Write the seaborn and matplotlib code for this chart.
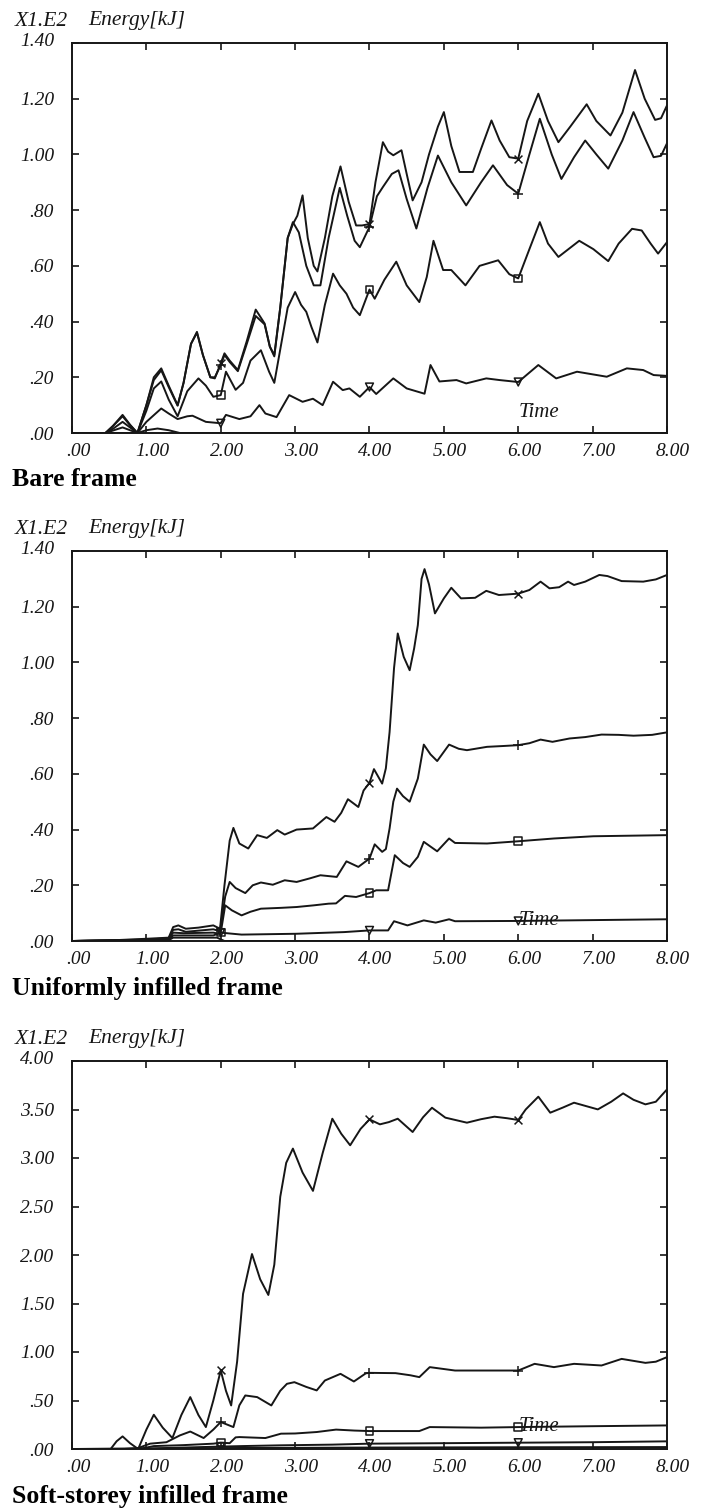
import numpy as np
import pandas as pd
import matplotlib
matplotlib.use("Agg")
import matplotlib.pyplot as plt
from matplotlib.transforms import ScaledTranslation
import seaborn as sns

# ---------------- data (values x 1E2 kJ) ----------------
# Panel 1 : Bare frame
p1_a_t = [0, 0.45, 0.55, 0.68, 0.78, 0.88, 1.0, 1.1, 1.2, 1.3, 1.42, 1.5, 1.6, 1.68, 1.76, 1.86, 1.92, 2.0, 2.05, 2.12, 2.23, 2.35, 2.47, 2.59, 2.66, 2.72, 2.8, 2.9, 2.97, 3.03, 3.1, 3.17, 3.25, 3.3, 3.4, 3.5, 3.61, 3.72, 3.82, 3.9, 4.0, 4.08, 4.18, 4.25, 4.32, 4.43, 4.5, 4.58, 4.7, 4.8, 4.92, 5.0, 5.1, 5.21, 5.39, 5.5, 5.64, 5.75, 5.88, 6.0, 6.12, 6.27, 6.4, 6.54, 6.7, 6.92, 7.05, 7.24, 7.4, 7.57, 7.7, 7.84, 7.92, 8.0]
p1_a_v = [0, 0, 0.025, 0.065, 0.03, 0.0, 0.1, 0.2, 0.232, 0.17, 0.10, 0.18, 0.32, 0.363, 0.28, 0.2, 0.196, 0.25, 0.286, 0.26, 0.226, 0.33, 0.443, 0.393, 0.31, 0.28, 0.45, 0.7, 0.75, 0.78, 0.853, 0.7, 0.6, 0.58, 0.7, 0.85, 0.957, 0.83, 0.745, 0.745, 0.75, 0.9, 1.044, 1.01, 0.997, 1.015, 0.93, 0.835, 0.9, 1.0, 1.1, 1.152, 1.03, 0.937, 0.937, 1.02, 1.122, 1.05, 0.99, 0.985, 1.12, 1.218, 1.12, 1.044, 1.1, 1.18, 1.12, 1.068, 1.15, 1.303, 1.2, 1.124, 1.13, 1.176]
p1_b_t = [0, 0.45, 0.55, 0.68, 0.78, 0.88, 1.0, 1.1, 1.2, 1.3, 1.42, 1.5, 1.6, 1.68, 1.76, 1.86, 1.92, 2.0, 2.05, 2.12, 2.23, 2.35, 2.47, 2.59, 2.66, 2.72, 2.8, 2.9, 2.97, 3.05, 3.15, 3.25, 3.34, 3.45, 3.6, 3.7, 3.8, 3.87, 4.0, 4.1, 4.18, 4.3, 4.39, 4.5, 4.63, 4.78, 4.92, 5.1, 5.3, 5.5, 5.66, 5.85, 6.0, 6.15, 6.29, 6.45, 6.58, 6.75, 6.9, 7.05, 7.21, 7.4, 7.55, 7.7, 7.82, 7.92, 8.0]
p1_b_v = [0, 0, 0.025, 0.06, 0.028, 0.0, 0.1, 0.19, 0.225, 0.165, 0.098, 0.18, 0.32, 0.36, 0.28, 0.2, 0.2, 0.244, 0.28, 0.255, 0.222, 0.32, 0.42, 0.39, 0.31, 0.275, 0.45, 0.7, 0.757, 0.72, 0.6, 0.53, 0.53, 0.7, 0.88, 0.78, 0.69, 0.667, 0.74, 0.85, 0.883, 0.93, 0.943, 0.84, 0.734, 0.88, 0.996, 0.9, 0.817, 0.9, 0.961, 0.89, 0.859, 1.0, 1.128, 1.0, 0.912, 0.99, 1.05, 1.0, 0.949, 1.05, 1.152, 1.06, 0.99, 0.995, 1.04]
p1_c_t = [0, 0.45, 0.55, 0.68, 0.78, 0.88, 1.0, 1.1, 1.2, 1.3, 1.42, 1.55, 1.7, 1.8, 1.9, 2.0, 2.07, 2.2, 2.3, 2.4, 2.54, 2.65, 2.72, 2.8, 2.9, 3.0, 3.08, 3.15, 3.22, 3.3, 3.4, 3.51, 3.6, 3.69, 3.78, 3.87, 4.0, 4.07, 4.2, 4.36, 4.5, 4.67, 4.77, 4.86, 4.99, 5.1, 5.29, 5.48, 5.73, 5.88, 6.0, 6.15, 6.29, 6.4, 6.54, 6.82, 7.01, 7.21, 7.35, 7.53, 7.66, 7.78, 7.88, 8.0]
p1_c_v = [0, 0, 0.015, 0.04, 0.02, 0.0, 0.08, 0.16, 0.185, 0.12, 0.06, 0.15, 0.196, 0.17, 0.13, 0.136, 0.22, 0.155, 0.18, 0.26, 0.297, 0.22, 0.18, 0.3, 0.45, 0.506, 0.46, 0.435, 0.38, 0.325, 0.46, 0.572, 0.53, 0.5, 0.45, 0.423, 0.515, 0.482, 0.55, 0.615, 0.53, 0.47, 0.56, 0.69, 0.585, 0.585, 0.53, 0.6, 0.62, 0.57, 0.555, 0.66, 0.757, 0.68, 0.632, 0.69, 0.66, 0.617, 0.68, 0.733, 0.727, 0.68, 0.644, 0.685]
p1_d_t = [0, 0.45, 0.68, 0.88, 1.0, 1.2, 1.3, 1.42, 1.55, 1.62, 1.8, 2.0, 2.07, 2.25, 2.4, 2.52, 2.6, 2.75, 2.92, 3.1, 3.24, 3.37, 3.51, 3.64, 3.73, 3.87, 4.0, 4.09, 4.32, 4.5, 4.74, 4.82, 4.94, 5.17, 5.3, 5.57, 5.75, 6.0, 6.27, 6.51, 6.79, 7.19, 7.46, 7.68, 7.82, 8.0]
p1_d_v = [0, 0, 0.02, 0.0, 0.04, 0.088, 0.07, 0.05, 0.06, 0.062, 0.04, 0.035, 0.065, 0.05, 0.06, 0.1, 0.07, 0.057, 0.136, 0.112, 0.123, 0.1, 0.184, 0.154, 0.16, 0.13, 0.165, 0.14, 0.196, 0.16, 0.141, 0.244, 0.185, 0.19, 0.178, 0.196, 0.19, 0.183, 0.244, 0.196, 0.22, 0.202, 0.232, 0.226, 0.208, 0.205]
p1_e_t = [0, 0.88, 1.0, 1.15, 1.3, 1.45, 8.0]
p1_e_v = [0, 0, 0.01, 0.016, 0.01, 0.0, 0.0]

# Panel 2 : Uniformly infilled frame
p2_a_t = [0, 0.5, 1.0, 1.3, 1.36, 1.43, 1.53, 1.7, 1.9, 1.99, 2.05, 2.12, 2.17, 2.25, 2.37, 2.49, 2.62, 2.76, 2.86, 3.02, 3.24, 3.42, 3.53, 3.62, 3.71, 3.85, 3.92, 4.0, 4.06, 4.17, 4.22, 4.27, 4.33, 4.38, 4.46, 4.54, 4.6, 4.65, 4.7, 4.74, 4.8, 4.88, 5.0, 5.1, 5.23, 5.42, 5.57, 5.74, 5.9, 6.0, 6.15, 6.3, 6.42, 6.55, 6.67, 6.75, 6.9, 7.09, 7.2, 7.39, 7.68, 7.85, 8.0]
p2_a_v = [0, 0.002, 0.008, 0.012, 0.05, 0.056, 0.044, 0.048, 0.056, 0.044, 0.2, 0.36, 0.406, 0.35, 0.332, 0.38, 0.37, 0.398, 0.382, 0.4, 0.404, 0.445, 0.428, 0.46, 0.509, 0.481, 0.54, 0.568, 0.617, 0.565, 0.62, 0.75, 0.98, 1.104, 1.02, 0.972, 1.05, 1.134, 1.3, 1.335, 1.28, 1.176, 1.23, 1.268, 1.23, 1.232, 1.257, 1.242, 1.245, 1.247, 1.26, 1.29, 1.266, 1.27, 1.29, 1.278, 1.29, 1.314, 1.31, 1.292, 1.29, 1.298, 1.314]
p2_b_t = [0, 1.0, 1.3, 1.36, 1.43, 1.53, 1.9, 1.99, 2.06, 2.12, 2.2, 2.33, 2.43, 2.54, 2.7, 2.86, 3.02, 3.2, 3.34, 3.56, 3.69, 3.85, 4.0, 4.07, 4.17, 4.22, 4.27, 4.32, 4.37, 4.45, 4.54, 4.65, 4.73, 4.82, 4.91, 5.07, 5.2, 5.31, 5.58, 5.8, 6.0, 6.15, 6.3, 6.46, 6.69, 6.9, 7.12, 7.35, 7.55, 7.8, 8.0]
p2_b_v = [0, 0.005, 0.01, 0.04, 0.042, 0.033, 0.042, 0.035, 0.16, 0.212, 0.19, 0.172, 0.2, 0.21, 0.202, 0.218, 0.212, 0.225, 0.236, 0.23, 0.286, 0.266, 0.296, 0.347, 0.32, 0.33, 0.404, 0.5, 0.547, 0.52, 0.5, 0.583, 0.705, 0.67, 0.646, 0.705, 0.69, 0.685, 0.697, 0.7, 0.703, 0.71, 0.723, 0.715, 0.727, 0.732, 0.741, 0.74, 0.737, 0.74, 0.749]
p2_c_t = [0, 1.0, 1.3, 1.36, 1.5, 1.9, 1.99, 2.0, 2.06, 2.15, 2.28, 2.4, 2.54, 2.81, 3.02, 3.25, 3.45, 3.55, 3.67, 3.82, 4.0, 4.09, 4.25, 4.34, 4.45, 4.54, 4.65, 4.73, 4.91, 5.07, 5.15, 5.58, 6.0, 6.48, 7.01, 7.5, 8.0]
p2_c_v = [0, 0.004, 0.008, 0.03, 0.028, 0.03, 0.025, 0.03, 0.128, 0.11, 0.092, 0.105, 0.116, 0.119, 0.122, 0.128, 0.134, 0.135, 0.162, 0.158, 0.172, 0.182, 0.182, 0.308, 0.28, 0.266, 0.302, 0.356, 0.322, 0.368, 0.352, 0.35, 0.358, 0.368, 0.376, 0.378, 0.38]
p2_d_t = [0, 1.3, 1.36, 1.9, 2.0, 2.28, 3.02, 3.66, 4.0, 4.25, 4.33, 4.51, 4.73, 4.89, 5.07, 5.15, 6.0, 7.0, 8.0]
p2_d_v = [0, 0.005, 0.02, 0.02, 0.03, 0.023, 0.026, 0.032, 0.038, 0.038, 0.071, 0.056, 0.074, 0.066, 0.078, 0.071, 0.072, 0.075, 0.078]
p2_e_t = [0, 1.3, 1.36, 1.95, 2.05, 8.0]
p2_e_v = [0, 0.003, 0.012, 0.012, 0.0, 0.0]

# Panel 3 : Soft-storey infilled frame
p3_a_t = [0, 0.52, 0.6, 0.68, 0.78, 0.89, 1.0, 1.1, 1.22, 1.35, 1.47, 1.59, 1.7, 1.8, 1.9, 2.0, 2.07, 2.14, 2.22, 2.3, 2.42, 2.53, 2.64, 2.72, 2.8, 2.88, 2.97, 3.1, 3.24, 3.37, 3.5, 3.62, 3.74, 3.88, 4.0, 4.14, 4.26, 4.38, 4.58, 4.72, 4.84, 5.02, 5.31, 5.5, 5.68, 5.85, 6.0, 6.1, 6.27, 6.43, 6.6, 6.75, 7.07, 7.25, 7.41, 7.55, 7.71, 7.85, 8.0]
p3_a_v = [0, 0, 0.08, 0.13, 0.06, 0.0, 0.2, 0.353, 0.22, 0.113, 0.35, 0.535, 0.35, 0.226, 0.5, 0.81, 0.6, 0.449, 0.9, 1.6, 2.01, 1.75, 1.588, 1.9, 2.6, 2.95, 3.097, 2.85, 2.661, 3.05, 3.405, 3.25, 3.131, 3.3, 3.398, 3.347, 3.37, 3.405, 3.268, 3.42, 3.518, 3.416, 3.364, 3.4, 3.426, 3.41, 3.392, 3.5, 3.632, 3.467, 3.52, 3.57, 3.501, 3.58, 3.666, 3.6, 3.553, 3.58, 3.707]
p3_b_t = [0, 0.7, 0.89, 1.05, 1.27, 1.45, 1.59, 1.77, 1.9, 2.0, 2.17, 2.25, 2.33, 2.49, 2.68, 2.8, 2.89, 2.99, 3.15, 3.29, 3.4, 3.61, 3.79, 3.95, 4.0, 4.35, 4.55, 4.67, 4.81, 5.15, 5.47, 6.0, 6.22, 6.48, 6.75, 7.12, 7.39, 7.71, 7.85, 8.0]
p3_b_v = [0, 0, 0.01, 0.055, 0.07, 0.14, 0.18, 0.113, 0.2, 0.278, 0.226, 0.45, 0.552, 0.535, 0.449, 0.6, 0.672, 0.689, 0.64, 0.604, 0.706, 0.775, 0.696, 0.78, 0.785, 0.782, 0.76, 0.741, 0.844, 0.809, 0.809, 0.809, 0.878, 0.844, 0.878, 0.861, 0.929, 0.888, 0.9, 0.947]
p3_c_t = [0, 0.9, 1.1, 1.5, 1.9, 2.0, 2.12, 2.2, 2.25, 2.6, 2.81, 3.0, 3.29, 3.55, 3.8, 4.0, 4.67, 4.81, 5.5, 6.0, 7.0, 8.0]
p3_c_v = [0, 0, 0.03, 0.04, 0.055, 0.065, 0.06, 0.12, 0.123, 0.113, 0.158, 0.16, 0.175, 0.2, 0.19, 0.185, 0.185, 0.226, 0.22, 0.226, 0.235, 0.243]
p3_d_t = [0, 1.0, 1.5, 2.0, 2.28, 2.81, 3.5, 4.0, 5.0, 6.0, 7.0, 8.0]
p3_d_v = [0, 0.005, 0.015, 0.025, 0.03, 0.038, 0.045, 0.055, 0.06, 0.065, 0.07, 0.079]
p3_e_t = [0, 1.0, 2.0, 3.0, 4.0, 6.0, 8.0]
p3_e_v = [0, 0.003, 0.01, 0.012, 0.015, 0.018, 0.02]

titles = ["Bare frame", "Uniformly infilled frame", "Soft-storey infilled frame"]
x_ticks = [0, 1, 2, 3, 4, 5, 6, 7, 8]
x_ticklabels = [".00", "1.00", "2.00", "3.00", "4.00", "5.00", "6.00", "7.00", "8.00"]
y_ticks_12 = [0, 0.2, 0.4, 0.6, 0.8, 1.0, 1.2, 1.4]
y_ticklabels_12 = [".00", ".20", ".40", ".60", ".80", "1.00", "1.20", "1.40"]
y_ticks_3 = [0, 0.5, 1.0, 1.5, 2.0, 2.5, 3.0, 3.5, 4.0]
y_ticklabels_3 = [".00", ".50", "1.00", "1.50", "2.00", "2.50", "3.00", "3.50", "4.00"]
marker_times = [2.0, 4.0, 6.0]
time_label_pos = [(6.0, 0.072), (6.0, 0.075), (6.0, 0.227)]

panels = [
    dict(series=[(p1_a_t, p1_a_v), (p1_b_t, p1_b_v), (p1_c_t, p1_c_v), (p1_d_t, p1_d_v), (p1_e_t, p1_e_v)],
         ymax=1.4, yt=y_ticks_12, ytl=y_ticklabels_12),
    dict(series=[(p2_a_t, p2_a_v), (p2_b_t, p2_b_v), (p2_c_t, p2_c_v), (p2_d_t, p2_d_v), (p2_e_t, p2_e_v)],
         ymax=1.4, yt=y_ticks_12, ytl=y_ticklabels_12),
    dict(series=[(p3_a_t, p3_a_v), (p3_b_t, p3_b_v), (p3_c_t, p3_c_v), (p3_d_t, p3_d_v), (p3_e_t, p3_e_v)],
         ymax=4.0, yt=y_ticks_3, ytl=y_ticklabels_3),
]

# ---------------- style ----------------
sns.set_theme(style="ticks")
plt.rcParams["font.family"] = ["Liberation Serif", "DejaVu Serif"]
plt.rcParams["lines.solid_joinstyle"] = "round"
INK = "#161616"
W, H, DPI = 701, 1510, 100
fig = plt.figure(figsize=(W / DPI, H / DPI), dpi=DPI, facecolor="white")

marker_styles = [
    dict(marker="x", s=32, color=INK, linewidth=1.1),
    dict(marker="+", s=42, color=INK, linewidth=1.1),
    dict(marker="s", s=30, facecolor="none", edgecolor=INK, linewidth=1.1),
    dict(marker="v", s=32, facecolor="none", edgecolor=INK, linewidth=1.1),
    None,
]

TICK_FS = 14
HEAD_FS = 15.5
TITLE_FS = 18.5

left_px, right_px = 72, 667
tops_px = [43, 551, 1061]
bots_px = [433, 941, 1449]

for i, p in enumerate(panels):
    rect = [left_px / W, 1 - bots_px[i] / H, (right_px - left_px) / W, (bots_px[i] - tops_px[i]) / H]
    ax = fig.add_axes(rect)
    ax.set_facecolor("white")
    for k, (t, v) in enumerate(p["series"]):
        df = pd.DataFrame({"t": t, "v": v})
        sns.lineplot(data=df, x="t", y="v", ax=ax, color=INK, linewidth=1.4,
                     estimator=None, sort=False, legend=False)
        ms = marker_styles[k]
        if ms is not None:
            mk = df[df["t"].isin(marker_times)]
            sns.scatterplot(data=mk, x="t", y="v", ax=ax, legend=False, zorder=3, **ms)
    ax.set_xlim(0, 8)
    ax.set_ylim(0, p["ymax"])
    ax.set_xlabel("")
    ax.set_ylabel("")
    ax.set_xticks(x_ticks)
    ax.set_xticklabels(x_ticklabels)
    ax.set_yticks(p["yt"])
    ax.set_yticklabels(p["ytl"])
    ax.tick_params(axis="both", which="major", direction="in", length=5, width=1.2,
                   color=INK, labelsize=TICK_FS, labelcolor=INK)
    ax.tick_params(axis="x", top=True, pad=7)
    ax.tick_params(axis="y", right=True, pad=13)
    for lab in ax.get_xticklabels() + ax.get_yticklabels():
        lab.set_fontstyle("italic")
    for lab in ax.get_xticklabels():
        lab.set_transform(lab.get_transform() + ScaledTranslation(6 / DPI, 0, fig.dpi_scale_trans))
    top_lab = ax.get_yticklabels()[-1]
    top_lab.set_transform(top_lab.get_transform() + ScaledTranslation(0, 4 / DPI, fig.dpi_scale_trans))
    for sp in ax.spines.values():
        sp.set_visible(True)
        sp.set_color(INK)
        sp.set_linewidth(1.4)
    ax.grid(False)
    tx, ty = time_label_pos[i]
    ax.text(tx, ty, "Time", fontsize=15, fontstyle="italic", color=INK, ha="left", va="center")

    # header and caption
    hy = 1 - (tops_px[i] - 22) / H
    fig.text(15 / W, hy, "X1.E2", fontsize=HEAD_FS, fontstyle="italic", color=INK, ha="left", va="center")
    fig.text(88 / W, hy, "Energy[kJ]", fontsize=HEAD_FS, fontstyle="italic", color=INK, ha="left", va="center")
    cy = 1 - (bots_px[i] + 47) / H
    fig.text(12 / W, cy, titles[i], fontsize=TITLE_FS, fontweight="bold", color="black", ha="left", va="center")

fig.savefig("out.png", dpi=DPI, facecolor="white")
